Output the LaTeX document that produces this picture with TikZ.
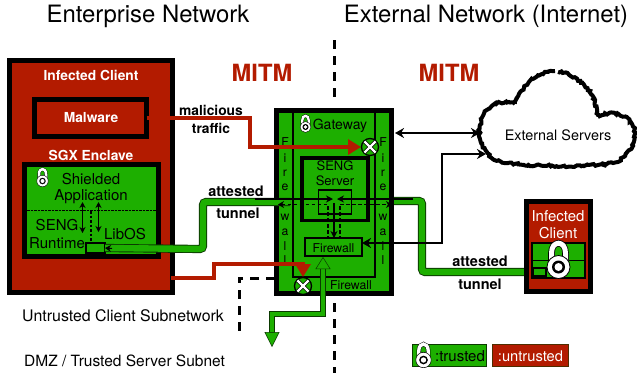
\documentclass[tikz,border=0pt]{standalone}
\usepackage{fontspec}
\setmainfont{TeX Gyre Heros}
\usetikzlibrary{arrows.meta,decorations.pathmorphing}
\definecolor{tred}{HTML}{B31B00}
\definecolor{tgreen}{HTML}{1DAF00}
\definecolor{tdark}{HTML}{0B3A00}
\newcommand\padlock[3]{%
  \begin{scope}[shift={(#1,#2)},scale=#3]
    \draw[black,line width=#3*6.6pt] (-7,0)--(-7,-14) .. controls (-7,-27) and (7,-27) .. (7,-14)--(7,0);
    \draw[white,line width=#3*5pt] (-7,0)--(-7,-14) .. controls (-7,-27) and (7,-27) .. (7,-14)--(7,0);
    \fill[white,draw=black,line width=#3*.8pt] (0,0) circle (11.5);
    \fill[black] (0,0) circle (6.5);
    \fill[white] (0,0) circle (4);
  \end{scope}}
\newcommand\crossmark[3]{%
  \begin{scope}[shift={(#1,#2)}]
    \fill[tgreen,draw=black,line width=1.3pt] (0,0) circle (#3);
    \draw[black,line width=3.6pt] (-.62*#3,-.62*#3)--(.62*#3,.62*#3) (-.62*#3,.62*#3)--(.62*#3,-.62*#3);
    \draw[white,line width=2.2pt] (-.66*#3,-.66*#3)--(.66*#3,.66*#3) (-.66*#3,.66*#3)--(.66*#3,-.66*#3);
  \end{scope}}
\tikzset{
  x=1pt,y=-1pt,
  box/.style={draw=black,inner sep=0pt,outer sep=0pt,line width=5pt},
  redbox/.style={box,fill=tred},
  greenbox/.style={box,fill=tgreen},
  tiny box/.style={draw=black,fill=tgreen,inner sep=0pt,outer sep=0pt,line width=1.1pt},
  txt/.style={inner sep=0pt,font=\fontsize{15}{15}\selectfont},
  wtxt/.style={inner sep=0pt,text=white,font=\fontsize{13.8}{14}\selectfont\bfseries},
  lbl/.style={inner sep=0pt,font=\fontsize{14.5}{15}\selectfont\bfseries},
  lbm/.style={inner sep=0pt,font=\fontsize{13.8}{15}\selectfont\bfseries},
  small/.style={inner sep=0pt,font=\fontsize{12.2}{13}\selectfont},
  title/.style={inner sep=0pt,font=\fontsize{23.9}{25}\selectfont},
  mitm/.style={inner sep=0pt,text=tred,font=\fontsize{23.7}{25}\selectfont\bfseries},
  zone/.style={black,line width=3pt,dash pattern=on 9pt off 7pt},
  redline/.style={tred,line width=4pt},
  redarrow/.style={redline,-{Triangle[width=15pt,length=13pt]}},
  tunnelout/.style={tdark,line width=8.2pt,rounded corners=3pt},
  tunnelin/.style={tgreen,line width=6.4pt,rounded corners=3pt},
  wire/.style={black,line width=1.7pt},
  biarrow/.style={black,line width=1.2pt,{Stealth[length=6pt,width=6pt]}-{Stealth[length=6pt,width=6pt]}},
  wbiarrow/.style={wire,{Stealth[length=9pt,width=10pt]}-{Stealth[length=9pt,width=10pt]}},
  dashline/.style={black,line width=1.4pt,dash pattern=on 3.5pt off 2.5pt},
  cloudline/.style={black,line width=4pt,decorate,decoration={random steps,segment length=2pt,amplitude=1.1pt}},
}
\begin{document}
\begin{tikzpicture}
\useasboundingbox[fill=white] (0,0) rectangle (637,373);
% titles
\node[title] (t1) at (148,16) {Enterprise Network};
\node[title] (t2) at (486,16) {External Network (Internet)};
\node[mitm] (m1) at (262,73) {MITM};
\node[mitm] (m2) at (449,73) {MITM};
% zone boundaries
\coordinate (za) at (334,40); \coordinate (zb) at (334,102);
\coordinate (zc) at (334,303); \coordinate (zd) at (334,373);
\coordinate (ze) at (275,278); \coordinate (zf) at (239,278); \coordinate (zg) at (239,338);
\draw[zone] (za)--(zb);
\draw[zone] (zc)--(zd);
\draw[zone] (ze)--(zf)--(zg);
\node[txt,anchor=west,font=\fontsize{15.9}{16}\selectfont] (u1) at (22,316) {Untrusted Client Subnetwork};
\node[txt,anchor=west,font=\fontsize{15.5}{16}\selectfont] (u2) at (24,361) {DMZ / Trusted Server Subnet};
% tunnels under gateway
\coordinate (tl1) at (203,249); \coordinate (tl2) at (203,202); \coordinate (tl3) at (290,202);
\coordinate (tr1) at (380,201); \coordinate (tr2) at (422,201); \coordinate (tr3) at (422,272); \coordinate (tr4) at (537,272);
% client
\node[redbox,minimum width=163pt,minimum height=232pt] (client) at (91,176.5) {};
\node[wtxt] (ct) at (91,75) {Infected Client};
\node[redbox,minimum width=112pt,minimum height=37pt] (malware) at (90.5,118) {};
\node[wtxt] (mt) at (91,118) {Malware};
\node[wtxt] (st) at (91,155) {SGX Enclave};
\node[greenbox,minimum width=134pt,minimum height=92pt] (enclave) at (91.5,210.5) {};
\coordinate (e1) at (27,210.5); \coordinate (e2) at (156,210.5);
\draw[black,line width=1pt,dash pattern=on 2.5pt off 1pt] (e1)--(e2);
\coordinate (e3) at (91,211); \coordinate (e4) at (91,243);
\draw[black,line width=1.3pt,dash pattern=on 2.5pt off 2pt] (e3)--(e4);
\node[txt] (sh) at (91,179) {Shielded};
\node[txt] (ap) at (91,197) {Application};
\node[txt] (sr) at (57,225) {SENG};
\node[txt] (rt) at (57,243) {Runtime};
\node[txt] (lo) at (125,234) {LibOS};
\coordinate (a1) at (82.5,202); \coordinate (a2) at (82.5,233);
\coordinate (a3) at (98.5,202); \coordinate (a4) at (98.5,232);
\draw[biarrow] (a1)--(a2);
\draw[biarrow] (a3)--(a4);
\padlock{42.5}{181}{.5}
% gateway
\draw[tunnelout] (tr1)--(tr2)--(tr3)--(tr4);
\draw[tunnelin] (tr1)--(tr2)--(tr3)--(tr4);
\node[greenbox,minimum width=115pt,minimum height=183pt] (gateway) at (334,202) {};
\coordinate (g1) at (293,109); \coordinate (g2) at (293,277); \coordinate (g3) at (375,277); \coordinate (g4) at (375,109);
\draw[black,line width=1.8pt] (g1)--(g2)--(g3)--(g4);
\node[draw=black,line width=3.5pt,inner sep=0pt,outer sep=0pt,minimum width=66pt,minimum height=62.5pt] (server) at (335,189) {};
\node[tiny box,fill=none,minimum width=33pt,minimum height=24pt] (inner) at (335,202) {};
\node[draw=black,line width=2.6pt,inner sep=0pt,outer sep=0pt,minimum width=57pt,minimum height=18pt] (fw) at (333.5,247) {};
\node[small] (fwt) at (333.5,248) {Firewall};
\node[small] (fwb) at (351,285) {Firewall};
\node[inner sep=0pt,font=\fontsize{14}{14}\selectfont] (gt) at (340,126) {Gateway};
\node[inner sep=0pt,font=\fontsize{13}{14}\selectfont] (ss) at (335,166) {SENG};
\node[inner sep=0pt,font=\fontsize{13}{14}\selectfont] (sv) at (335,181) {Server};
\padlock{305.5}{127}{.47}
\foreach \xx/\pp in {285/l,383/r}{
  \node[small] (F\pp) at (\xx,142) {F};
  \node[small] (i\pp) at (\xx,158) {i};
  \node[small] (r\pp) at (\xx,173) {r};
  \node[small] (e\pp) at (\xx,187) {e};
  \node[small] (w\pp) at (\xx,217) {w};
  \node[small] (a\pp) at (\xx,232) {a};
  \node[small] (l\pp) at (\xx,246) {l};
  \node[small] (k\pp) at (\xx,260) {l};
}
% tunnel from the enclave
\node[tiny box,minimum width=19pt,minimum height=10pt] (tb) at (95.5,248) {};
\draw[tunnelout] (tb.east)--(tl1)--(tl2)--(tl3);
\draw[tunnelin] (tb.east)--(tl1)--(tl2)--(tl3);
\coordinate (tip1) at (112,248.5);
\draw[black,line width=1pt,-{Stealth[length=6pt,width=7pt]}] (tip1)--(tb.east);
% wires in gateway
\coordinate (wl) at (255,199); \coordinate (wc1) at (333,199);
\coordinate (wr) at (413,199); \coordinate (wc2) at (337,199);
\draw[black,line width=1.8pt,-{Stealth[length=7pt,width=7pt]}] (wl)--(wc1);
\draw[black,line width=1.8pt,-{Stealth[length=7pt,width=7pt]}] (wr)--(wc2);
\coordinate (d1) at (278,204.5); \coordinate (d2) at (329,204.5); \coordinate (d3) at (340,204.5); \coordinate (d4) at (392,204.5);
\draw[dashline,{Stealth[length=6pt,width=7pt]}-] (d1)--(d2);
\draw[dashline,-{Stealth[length=6pt,width=7pt]}] (d3)--(d4);
\coordinate (v1) at (334,203);
\draw[black,line width=1.5pt,-{Stealth[length=7pt,width=7pt]}] (v1)--(v1|-fw.north);
\coordinate (v2) at (328,206); \coordinate (v3) at (328,237); \coordinate (v4) at (340,206); \coordinate (v5) at (340,237);
\draw[dashline] (v2)--(v3);
\draw[dashline] (v4)--(v5);
% malicious traffic
\coordinate (r1) at (250,118); \coordinate (r2) at (250,147); \coordinate (r3) at (361,147);
\draw[redarrow] (malware.east)--(r1)--(r2)--(r3);
\crossmark{370}{147}{8.5}
\node[lbm] (ma) at (211,110) {malicious};
\node[lbm] (tr) at (211,128) {traffic};
\coordinate (s0) at (171,278); \coordinate (s1) at (214,278); \coordinate (s2) at (214,264); \coordinate (s3) at (303,264); \coordinate (s4) at (303,277);
\draw[redarrow] (s0)--(s1)--(s2)--(s3)--(s4);
\crossmark{303}{286}{8.5}
\node[lbl] (at1) at (236,191) {attested};
\node[lbl] (tu1) at (238,213) {tunnel};
\node[lbl] (at2) at (480,261) {attested};
\node[lbl] (tu2) at (480,284) {tunnel};
% DMZ arrow
\coordinate (g5) at (323,257); \coordinate (g6) at (323,314); \coordinate (g7) at (272,314); \coordinate (g8) at (272,347);
\draw[tdark,line width=5.6pt,shorten <=8pt,shorten >=8pt] (g5)--(g6)--(g7)--(g8);
\draw[tgreen,line width=4.2pt,{Triangle[width=15pt,length=12pt,fill=tgreen,color=tdark,line width=.5pt]}-{Triangle[width=15pt,length=15pt,fill=tgreen,color=tdark,line width=.5pt]}] (g5)--(g6)--(g7)--(g8);
% cloud
\draw[cloudline] (555,71) .. controls (537,72) and (522,85) .. (515,104);
\draw[cloudline] (515,104) .. controls (498,98) and (483,108) .. (480,125) .. controls (477,145) and (488,160) .. (505,163) .. controls (540,167) and (590,167) .. (613,163) .. controls (630,158) and (640,135) .. (632,124) .. controls (625,113) and (610,110) .. (598,117);
\draw[cloudline] (598,117) .. controls (597,95) and (580,74) .. (558,72);
\node[inner sep=0pt,font=\fontsize{14.4}{15}\selectfont] (ext) at (558,135) {External Servers};
% external links
\coordinate (c1) at (480,133); \coordinate (c2) at (395,133);
\draw[wbiarrow] (c1)--(c2);
\coordinate (c3) at (486,154); \coordinate (c4) at (442,154); \coordinate (c5) at (442,243);
\draw[wbiarrow] (c3)--(c4)--(c5)--(c5-|fw.east);
% right client
\node[redbox,minimum width=64pt,minimum height=90pt] (rc) at (558.5,246.5) {};
\node[inner sep=0pt,text=white,font=\fontsize{15}{15}\selectfont] (rc1) at (558,216) {Infected};
\node[inner sep=0pt,text=white,font=\fontsize{15}{15}\selectfont] (rc2) at (558,233) {Client};
\node[greenbox,line width=2pt,minimum width=53pt,minimum height=35pt] (re) at (558.5,260.5) {};
\coordinate (re1) at (532,260); \coordinate (re2) at (585,260);
\draw[black,line width=.9pt] (re1)--(re2);
\node[tiny box,minimum width=13pt,minimum height=8pt] (rb) at (539.5,272) {};
\padlock{558.5}{267}{1}
% legend
\node[draw=tdark,fill=tgreen,line width=1pt,inner sep=0pt,minimum width=74pt,minimum height=22pt] (lg) at (449.5,355.5) {};
\node[txt] (lgt) at (460,356) {:trusted};
\padlock{423.5}{360}{.67}
\node[draw=tdark!60!tred,fill=tred,line width=1pt,inner sep=0pt,minimum width=76pt,minimum height=22pt] (lr) at (530.5,355.5) {};
\node[txt,text=white,font=\fontsize{14.7}{15}\selectfont] (lrt) at (530.5,356) {:untrusted};
\end{tikzpicture}
\end{document}
